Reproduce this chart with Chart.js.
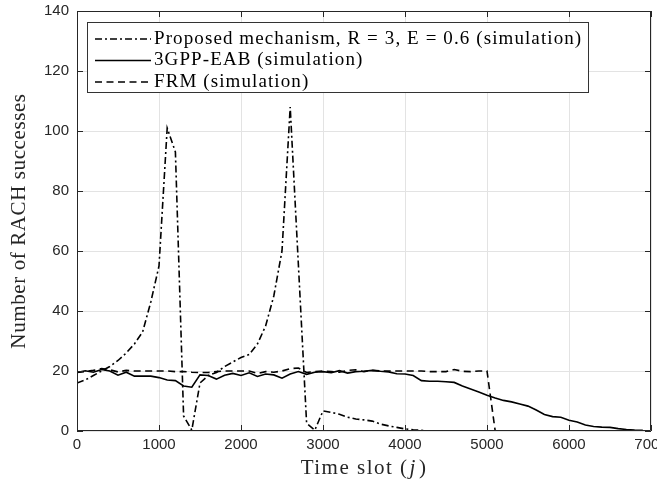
<!DOCTYPE html>
<html>
<head>
<meta charset="utf-8">
<script src="https://cdn.jsdelivr.net/npm/chart.js@4"></script>
<style>
  html, body { margin: 0; padding: 0; background: #fff; overflow: hidden; }
  #wrap { width: 657px; height: 483px; }
</style>
</head>
<body>
<div id="wrap"><canvas id="myChart" width="657" height="483"></canvas></div>
<script>
// time slots and values
var proposedX = [0,100,200,300,400,500,600,700,800,900,1000,1100,1200,1300,1400,1500,1600,1700,1800,1900,2000,2100,2200,2300,2400,2500,2600,2800,2900,3000,3100,3200,3300,3400,3500,3600,3700,3800,3900,4000,4100,4200,4300,5900];
var proposedY = [16,17,18.5,20,21.5,23.5,26,29,33,43,55,101,93,5,0.3,16,18.5,19.5,21.5,23,24.5,25.5,29,35,45,60,108,2.6,0.3,6.7,6.2,5.6,4.6,4,3.7,3.3,2.3,1.7,1.2,0.7,0.4,0.2,0,0];

var eabX = [0,100,200,300,400,500,600,700,800,900,1000,1100,1200,1300,1400,1500,1600,1700,1800,1900,2000,2100,2200,2300,2400,2500,2600,2700,2800,2900,3000,3100,3200,3300,3400,3500,3600,3700,3800,3900,4000,4100,4200,4300,4400,4500,4600,4700,4800,4900,5000,5100,5200,5300,5400,5500,5600,5700,5800,5900,6000,6100,6200,6300,6400,6500,6600,6700,6800,6900];
var eabY = [19.5,20.1,19.6,20.5,20,18.6,19.6,18.3,18.3,18.3,17.8,17,16.8,15,14.6,18.7,18.5,17.3,18.6,19.2,18.5,19.4,18.2,19,18.7,17.6,19,19.8,18.9,19.6,19.8,19.4,20.1,19.3,19.8,19.9,20.2,19.9,19.7,19.1,19,18.5,16.8,16.6,16.6,16.4,16.2,15,14,13,11.9,11,10.2,9.7,9,8.3,7,5.5,4.8,4.6,3.6,3,2,1.5,1.3,1.2,0.8,0.5,0.3,0.2];

var frmX = [0,100,200,300,400,500,600,700,800,900,1000,1100,1200,1300,1400,1500,1600,1700,1800,1900,2000,2100,2200,2300,2400,2500,2600,2700,2800,2900,3000,3100,3200,3300,3400,3500,3600,3700,3800,3900,4000,4100,4200,4300,4400,4500,4600,4700,4800,4900,5000,5100,5900];
var frmY = [19.5,19.8,20.2,20.8,20.4,19.7,20.2,20,20,20,20,20,19.8,19.8,19.6,19.5,19.5,19.8,20,20,20,20,19.2,19.8,19.6,20,20.8,21,19.5,19.8,20,19.8,19.6,20.2,20.4,19.8,20.2,20,20,20,20,20,20,19.8,19.8,19.8,20.5,19.9,19.8,20,20,0,0];

var seriesLabels = ['Proposed mechanism, R = 3, E = 0.6 (simulation)', '3GPP-EAB (simulation)', 'FRM (simulation)'];
var xTicks = [0,1000,2000,3000,4000,5000,6000,7000];
var yTicks = [0,20,40,60,80,100,120,140];

var serif = '"Liberation Serif", "DejaVu Serif", serif';
var sans = '"Liberation Sans", Arial, sans-serif';

function pts(xs, ys) {
  return xs.map(function (x, i) { return {x: x, y: ys[i]}; });
}

// frame box, inward ticks, axis titles and legend box (MATLAB look)
var frame = {
  id: 'frame',
  afterDatasetsDraw: function (chart) {
    var ctx = chart.ctx, a = chart.chartArea;
    var xs = chart.scales.x, ys = chart.scales.y;
    ctx.save();
    ctx.strokeStyle = '#262626';
    ctx.lineWidth = 1;
    ctx.beginPath();
    ctx.rect(a.left + 0.5, a.top + 0.5, a.right - a.left - 1, a.bottom - a.top - 1);
    ctx.stroke();
    ctx.beginPath();
    xTicks.forEach(function (t) {
      var px = Math.round(xs.getPixelForValue(t)) + 0.5;
      ctx.moveTo(px, a.bottom); ctx.lineTo(px, a.bottom - 6);
      ctx.moveTo(px, a.top); ctx.lineTo(px, a.top + 6);
    });
    yTicks.forEach(function (t) {
      var py = Math.round(ys.getPixelForValue(t)) + 0.5;
      ctx.moveTo(a.left, py); ctx.lineTo(a.left + 6, py);
      ctx.moveTo(a.right, py); ctx.lineTo(a.right - 6, py);
    });
    ctx.stroke();

    // legend
    var lx = 87, ly = 22, lw = 501, lh = 70;
    ctx.fillStyle = '#fff';
    ctx.fillRect(lx, ly, lw, lh);
    ctx.strokeStyle = '#333';
    ctx.strokeRect(lx + 0.5, ly + 0.5, lw, lh);
    ctx.font = '19px ' + serif;
    ctx.letterSpacing = '1.1px';
    ctx.textBaseline = 'middle';
    ctx.textAlign = 'left';
    chart.data.datasets.forEach(function (ds, i) {
      var yy = ly + 17 + i * 21.5;
      ctx.strokeStyle = '#000';
      ctx.lineWidth = 1.6;
      ctx.setLineDash(ds.borderDash || []);
      ctx.beginPath();
      ctx.moveTo(lx + 8, yy); ctx.lineTo(lx + 64, yy);
      ctx.stroke();
      ctx.setLineDash([]);
      ctx.fillStyle = '#000';
      ctx.fillText(ds.label, lx + 67, yy);
    });

    // x title with italic j
    ctx.fillStyle = '#262626';
    ctx.textBaseline = 'alphabetic';
    ctx.letterSpacing = '1.5px';
    ctx.font = '21px ' + serif;
    var p1 = 'Time slot (', p2 = 'j', p3 = ')';
    var w1 = ctx.measureText(p1).width, w3 = ctx.measureText(p3).width;
    ctx.font = 'italic 21px ' + serif;
    var w2 = ctx.measureText(p2).width + 3;
    var sx = (a.left + a.right) / 2 - (w1 + w2 + w3) / 2;
    var by = 474;
    ctx.font = '21px ' + serif;
    ctx.fillText(p1, sx, by);
    ctx.font = 'italic 21px ' + serif;
    ctx.fillText(p2, sx + w1 + 1, by);
    ctx.font = '21px ' + serif;
    ctx.fillText(p3, sx + w1 + w2, by);

    // y title
    ctx.letterSpacing = '0.6px';
    ctx.translate(25, (a.top + a.bottom) / 2);
    ctx.rotate(-Math.PI / 2);
    ctx.textAlign = 'center';
    ctx.font = '21px ' + serif;
    ctx.fillText('Number of RACH successes', 0, 0);
    ctx.restore();
  }
};

var ctx = document.getElementById('myChart').getContext('2d');
var chart = new Chart(ctx, {
  type: 'line',
  data: {
    datasets: [{
      label: seriesLabels[0],
      data: pts(proposedX, proposedY),
      borderColor: '#000',
      borderWidth: 1.6,
      borderDash: [7, 3, 2, 3]
    }, {
      label: seriesLabels[1],
      data: pts(eabX, eabY),
      borderColor: '#000',
      borderWidth: 1.6,
      borderDash: []
    }, {
      label: seriesLabels[2],
      data: pts(frmX, frmY),
      borderColor: '#000',
      borderWidth: 1.6,
      borderDash: [7, 4.5]
    }]
  },
  options: {
    responsive: false,
    animation: false,
    layout: { padding: { top: 11, right: 6, left: 0, bottom: 0 } },
    elements: { point: { radius: 0 }, line: { tension: 0 } },
    plugins: { legend: { display: false }, tooltip: { enabled: false } },
    scales: {
      x: {
        type: 'linear', min: 0, max: 7000,
        afterBuildTicks: function (s) { s.ticks = xTicks.map(function (v) { return {value: v}; }); },
        afterFit: function (s) { s.height = 52; s.paddingLeft = 0; s.paddingRight = 0; },
        grid: { color: '#e3e3e3', drawTicks: false },
        border: { display: false },
        ticks: {
          padding: 5, color: '#262626', font: { family: sans, size: 15 },
          callback: function (v) { return String(v); }
        }
      },
      y: {
        min: 0, max: 140,
        afterBuildTicks: function (s) { s.ticks = yTicks.map(function (v) { return {value: v}; }); },
        afterFit: function (s) { s.width = 77; s.paddingTop = 0; s.paddingBottom = 0; },
        grid: { color: '#e3e3e3', drawTicks: false },
        border: { display: false },
        ticks: {
          padding: 8, color: '#262626', font: { family: sans, size: 15 },
          callback: function (v) { return String(v); }
        }
      }
    }
  },
  plugins: [frame]
});
</script>
</body>
</html>
